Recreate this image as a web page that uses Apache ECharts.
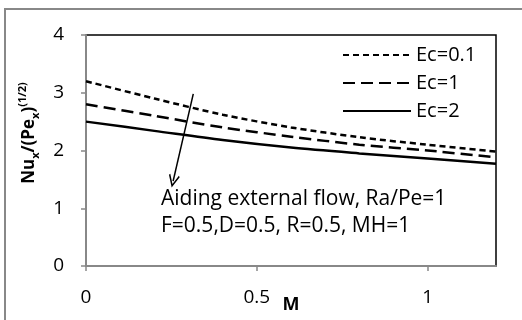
<!DOCTYPE html>
<html>
<head>
<meta charset="utf-8">
<script src="https://cdn.jsdelivr.net/npm/echarts@6/dist/echarts.min.js"></script>
<style>
  html, body { margin: 0; padding: 0; background: #fff; }
  #chart { width: 522px; height: 320px; }
</style>
</head>
<body>
<div id="chart"></div>
<script>
// data
var mValues = [0, 0.2, 0.4, 0.6, 0.8, 1.0, 1.2];
var ec01 = [3.2, 2.9, 2.62, 2.4, 2.23, 2.1, 1.98];
var ec1 = [2.8, 2.6, 2.4, 2.24, 2.1, 2.0, 1.88];
var ec2 = [2.5, 2.34, 2.18, 2.05, 1.95, 1.86, 1.77];
var seriesNames = ['Ec=0.1', 'Ec=1', 'Ec=2'];
// arrow annotation (data coords)
var arrowFrom = [0.314, 2.98];
var arrowTo = [0.255, 1.47];

var font = 'Open Sans';

function pairs(ys) {
    return mValues.map(function (m, i) { return [m, ys[i]]; });
}

var chart = echarts.init(document.getElementById('chart'));
var option = {
    backgroundColor: '#fff',
    animation: false,
    textStyle: { fontFamily: font },
    grid: {
        left: 86, top: 35, right: 26, bottom: 54,
        outerBoundsMode: 'none',
        containLabel: false,
        show: true,
        borderColor: '#000',
        borderWidth: 1.5
    },
    legend: {
        orient: 'vertical',
        left: 337,
        top: 40,
        itemWidth: 68,
        itemHeight: 14,
        itemGap: 8,
        data: seriesNames,
        itemStyle: { opacity: 0 },
        textStyle: { fontFamily: font, fontSize: 20, color: '#000' }
    },
    xAxis: {
        type: 'value',
        min: 0, max: 1.2, interval: 0.5,
        name: 'M',
        nameLocation: 'middle',
        nameGap: 30,
        nameMoveOverlap: false,
        nameTextStyle: { fontFamily: font, fontSize: 18, fontWeight: 'bold', color: '#000' },
        axisLine: { lineStyle: { color: '#888', width: 2 } },
        axisTick: { show: true, length: 5, lineStyle: { color: '#888', width: 1.5 } },
        axisLabel: { fontFamily: font, fontSize: 19, color: '#000', margin: 22, showMaxLabel: false },
        splitLine: { show: false }
    },
    yAxis: {
        type: 'value',
        min: 0, max: 4, interval: 1,
        axisLine: { show: true, lineStyle: { color: '#888', width: 2 } },
        axisTick: { show: true, length: 5, lineStyle: { color: '#888', width: 1.5 } },
        axisLabel: { fontFamily: font, fontSize: 19, color: '#000', margin: 22 },
        splitLine: { show: false }
    },
    series: [
        {
            name: seriesNames[0],
            type: 'line',
            data: pairs(ec01),
            smooth: 0.3,
            symbol: 'none',
            lineStyle: { color: '#000', width: 2.5, type: [6, 4] },
            itemStyle: { color: '#000' },
            markLine: {
                silent: true,
                symbol: ['none', 'path://M5,0 L10,10 L9,11 L5,3 L1,11 L0,10 Z'],
                symbolSize: [11, 13],
                label: { show: false },
                lineStyle: { color: '#000', width: 1.5, type: 'solid' },
                itemStyle: { color: '#000' },
                data: [[{ coord: arrowFrom }, { coord: arrowTo }]]
            }
        },
        {
            name: seriesNames[1],
            type: 'line',
            data: pairs(ec1),
            smooth: 0.3,
            symbol: 'none',
            lineStyle: { color: '#000', width: 2.5, type: [12, 6] },
            itemStyle: { color: '#000' }
        },
        {
            name: seriesNames[2],
            type: 'line',
            data: pairs(ec2),
            smooth: 0.3,
            symbol: 'none',
            lineStyle: { color: '#000', width: 2.5, type: 'solid' },
            itemStyle: { color: '#000' }
        }
    ],
    graphic: [
        {
            type: 'rect',
            shape: { x: 5, y: 9, width: 600, height: 400 },
            style: { fill: 'none', stroke: '#888', lineWidth: 2 },
            silent: true
        },
        {
            // y axis title, rotated
            type: 'text',
            x: 29,
            y: 133,
            rotation: Math.PI / 2,
            style: {
                text: '{b|Nu}{s|x}{b|/(Pe}{s|x}{b|)}{p|(1/2)}',
                align: 'center',
                verticalAlign: 'middle',
                rich: {
                    b: { fontFamily: font, fontSize: 17, fontWeight: 'bold', fill: '#000', lineHeight: 24, verticalAlign: 'middle' },
                    s: { fontFamily: font, fontSize: 11, fontWeight: 'bold', fill: '#000', lineHeight: 24, verticalAlign: 'bottom' },
                    p: { fontFamily: font, fontSize: 11, fontWeight: 'bold', fill: '#000', lineHeight: 24, verticalAlign: 'top' }
                }
            }
        },
        {
            type: 'text',
            left: 161,
            top: 186,
            style: {
                text: 'Aiding external flow, Ra/Pe=1\nF=0.5,D=0.5, R=0.5, MH=1',
                font: '21px "Open Sans"',
                lineHeight: 27,
                fill: '#000'
            }
        }
    ]
};
chart.setOption(option);
window.addEventListener('resize', function () { chart.resize(); });
</script>
</body>
</html>
